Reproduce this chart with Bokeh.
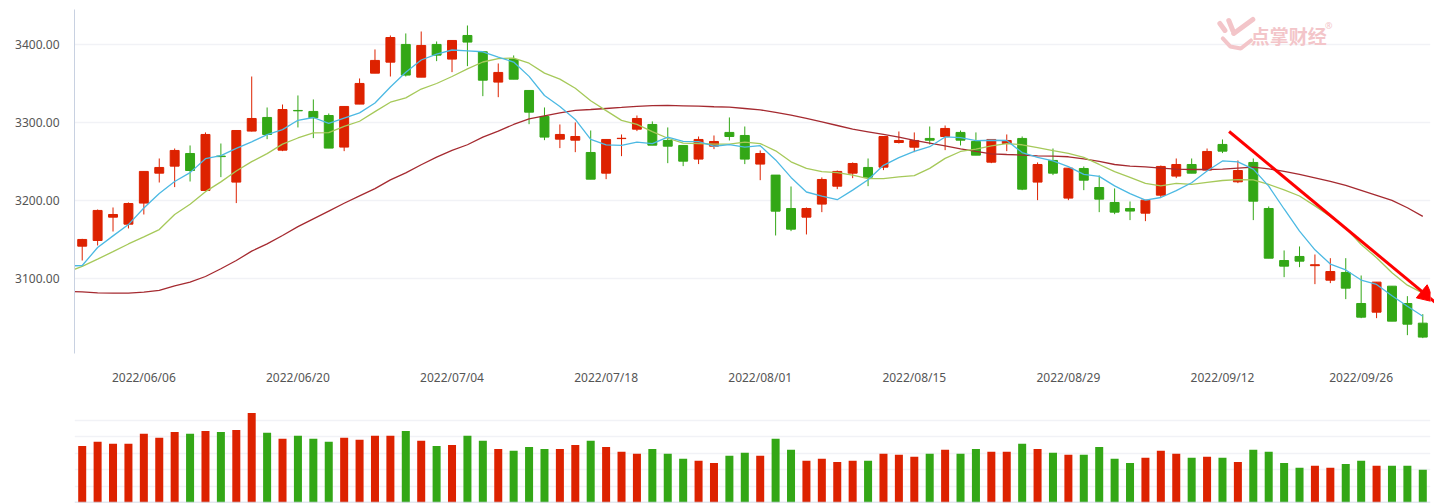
from bokeh.plotting import figure
from bokeh.models import Range1d, FixedTicker, NumeralTickFormatter, Arrow, NormalHead, Span, Label
from bokeh.layouts import column
from bokeh.embed import file_html
from bokeh.resources import INLINE
from bokeh.core.properties import value

# ---------------- data ----------------
opens = [3141.0, 3148.3, 3178.2, 3169.2, 3196.2, 3234.6, 3243.6, 3259.8, 3212.4, 3256.5,
         3223.1, 3288.5, 3306.0, 3264.1, 3315.0, 3313.7, 3308.5, 3268.0, 3323.1, 3362.8,
         3376.9, 3399.6, 3357.7, 3399.6, 3380.8, 3411.1, 3390.2, 3351.3, 3380.3, 3340.6,
         3307.3, 3278.2, 3276.9, 3261.1, 3234.6, 3278.9, 3291.0, 3297.0, 3276.5, 3270.1,
         3252.6, 3269.2, 3286.8, 3282.9, 3246.2, 3232.1, 3189.3, 3178.2, 3194.9, 3217.9,
         3234.6, 3241.9, 3242.3, 3273.9, 3267.9, 3279.1, 3281.6, 3286.8, 3275.2, 3248.7,
         3272.6, 3279.1, 3223.1, 3250.9, 3202.6, 3240.6, 3216.2, 3197.0, 3189.3, 3183.3,
         3206.4, 3230.8, 3245.7, 3238.5, 3271.4, 3223.5, 3248.3, 3189.3, 3122.6, 3127.8,
         3116.0, 3097.4, 3107.3, 3067.5, 3056.4, 3089.7, 3067.5, 3042.3]
highs = [3150.4, 3188.0, 3190.6, 3197.0, 3236.8, 3253.4, 3266.2, 3270.1, 3286.8, 3272.6,
         3289.3, 3358.5, 3318.8, 3322.6, 3334.2, 3329.1, 3311.1, 3320.1, 3356.0, 3393.2,
         3411.1, 3413.7, 3416.2, 3403.4, 3404.7, 3423.9, 3390.2, 3375.2, 3385.5, 3340.6,
         3318.8, 3297.0, 3299.6, 3289.3, 3277.8, 3284.2, 3308.5, 3300.9, 3293.2, 3270.1,
         3281.6, 3282.9, 3306.0, 3294.4, 3263.7, 3232.1, 3217.5, 3190.6, 3229.1, 3238.0,
         3248.3, 3253.4, 3281.6, 3288.0, 3286.8, 3294.4, 3295.7, 3289.3, 3286.8, 3277.8,
         3284.2, 3281.6, 3248.3, 3266.2, 3241.0, 3243.2, 3231.6, 3215.0, 3198.3, 3200.0,
         3244.4, 3253.4, 3253.4, 3266.2, 3277.8, 3250.9, 3253.4, 3191.9, 3135.5, 3140.6,
         3130.3, 3125.6, 3125.6, 3103.4, 3094.9, 3089.7, 3076.9, 3053.8]
lows = [3122.6, 3141.9, 3159.8, 3163.7, 3181.6, 3222.6, 3216.7, 3223.9, 3210.7, 3229.5,
        3196.2, 3288.0, 3278.2, 3262.8, 3293.2, 3279.5, 3266.7, 3262.8, 3323.1, 3362.8,
        3358.5, 3358.5, 3357.7, 3378.2, 3364.1, 3371.8, 3333.3, 3332.0, 3355.1, 3297.4,
        3276.9, 3266.7, 3261.5, 3226.9, 3226.9, 3256.4, 3288.5, 3270.5, 3247.4, 3243.6,
        3246.2, 3265.4, 3276.5, 3246.2, 3225.6, 3154.7, 3160.3, 3156.0, 3184.6, 3214.1,
        3228.2, 3217.9, 3238.5, 3272.6, 3261.5, 3271.4, 3264.1, 3270.1, 3257.7, 3247.4,
        3262.8, 3212.8, 3200.0, 3232.1, 3200.0, 3212.8, 3184.6, 3182.0, 3174.4, 3173.1,
        3203.8, 3228.2, 3234.6, 3238.5, 3260.3, 3221.8, 3174.4, 3125.6, 3101.3, 3114.1,
        3092.3, 3093.6, 3073.1, 3048.7, 3048.7, 3044.9, 3026.9, 3023.1]
closes = [3149.6, 3186.8, 3181.6, 3195.7, 3236.8, 3241.9, 3263.7, 3238.0, 3284.2, 3255.8,
          3289.3, 3304.7, 3284.2, 3316.2, 3314.5, 3305.6, 3266.7, 3320.1, 3349.6, 3379.1,
          3408.5, 3360.3, 3398.3, 3385.9, 3404.7, 3402.6, 3353.8, 3363.7, 3355.1, 3312.8,
          3280.8, 3284.2, 3281.6, 3226.9, 3277.8, 3279.3, 3304.7, 3270.5, 3269.2, 3250.0,
          3277.8, 3275.2, 3281.6, 3252.6, 3259.8, 3185.9, 3162.8, 3189.3, 3226.5, 3236.8,
          3247.0, 3229.5, 3281.6, 3276.5, 3276.5, 3276.9, 3291.9, 3276.9, 3257.7, 3277.8,
          3276.5, 3214.1, 3245.7, 3234.6, 3241.0, 3225.6, 3201.3, 3184.6, 3186.0, 3200.0,
          3243.2, 3245.7, 3234.6, 3262.4, 3262.8, 3238.0, 3198.7, 3125.6, 3115.4, 3121.8,
          3117.2, 3108.5, 3087.2, 3050.0, 3094.9, 3044.9, 3041.0, 3024.4]
volumes = [3430, 3680, 3560, 3560, 4160, 3920, 4280, 4160, 4340, 4280,
           4400, 5430, 4220, 3860, 4040, 3860, 3680, 3920, 3800, 4040,
           4040, 4340, 3740, 3430, 3490, 4040, 3740, 3250, 3130, 3370,
           3250, 3250, 3490, 3740, 3370, 3070, 2950, 3250, 2950, 2650,
           2530, 2400, 2830, 3010, 2830, 3860, 3190, 2530, 2650, 2460,
           2530, 2530, 2950, 2890, 2770, 2950, 3190, 2950, 3250, 3070,
           3070, 3560, 3250, 3010, 2890, 2890, 3370, 2650, 2400, 2710,
           3130, 2950, 2710, 2770, 2710, 2460, 3190, 3070, 2400, 2100,
           2220, 2100, 2340, 2530, 2220, 2220, 2220, 1980]
# moving averages, first value is the day before the visible window
ma5 = [3115.72, 3116.16, 3139.26, 3154.20, 3168.67, 3189.90, 3208.44, 3223.91, 3235.27, 3253.14,
       3256.98, 3266.41, 3274.73, 3284.02, 3290.41, 3302.38, 3305.95, 3298.30, 3305.26, 3311.85,
       3324.60, 3345.10, 3363.96, 3379.66, 3387.24, 3392.48, 3391.45, 3390.21, 3383.37, 3377.06,
       3358.69, 3334.18, 3319.96, 3303.43, 3277.83, 3270.73, 3270.32, 3274.41, 3272.46, 3280.84,
       3275.30, 3274.90, 3269.11, 3271.23, 3267.88, 3269.80, 3251.56, 3229.14, 3210.44, 3205.19,
       3200.59, 3212.82, 3226.09, 3244.62, 3254.59, 3262.42, 3268.51, 3281.01, 3280.19, 3276.42,
       3276.76, 3276.43, 3260.97, 3254.71, 3250.34, 3242.92, 3233.12, 3230.51, 3218.26, 3208.31,
       3200.15, 3203.39, 3212.22, 3222.34, 3237.46, 3250.24, 3249.05, 3239.78, 3217.94, 3188.65,
       3160.37, 3136.30, 3118.10, 3110.49, 3097.62, 3091.91, 3077.49, 3063.95, 3051.15]
ma10 = [3107.56, 3115.09, 3124.36, 3133.98, 3143.83, 3152.81, 3162.30, 3181.58, 3194.73, 3210.91,
        3223.44, 3237.42, 3249.32, 3259.64, 3271.77, 3279.68, 3286.18, 3286.52, 3294.64, 3301.13,
        3313.49, 3325.52, 3331.13, 3342.46, 3349.54, 3358.54, 3368.27, 3377.09, 3381.51, 3382.15,
        3375.59, 3362.81, 3355.09, 3343.40, 3327.44, 3314.71, 3302.25, 3297.19, 3287.95, 3279.34,
        3273.02, 3272.61, 3271.76, 3271.85, 3274.36, 3272.55, 3263.23, 3249.13, 3240.83, 3236.54,
        3235.19, 3232.19, 3227.62, 3227.53, 3229.89, 3231.50, 3240.67, 3253.55, 3262.40, 3265.51,
        3269.59, 3272.47, 3270.99, 3267.45, 3263.38, 3259.84, 3254.78, 3245.74, 3236.48, 3229.32,
        3221.54, 3218.26, 3221.37, 3220.30, 3222.88, 3225.19, 3226.22, 3226.00, 3220.14, 3213.06,
        3205.31, 3192.68, 3178.94, 3164.22, 3143.14, 3126.14, 3106.89, 3091.02, 3080.82]
ma30 = [3083.0, 3082.5, 3081.2, 3080.8, 3080.8, 3082.0, 3084.2, 3090.2, 3094.9, 3102.1,
        3112.0, 3122.6, 3134.6, 3144.0, 3154.7, 3166.0, 3176.0, 3186.0, 3196.0, 3205.5,
        3214.8, 3226.0, 3234.9, 3245.4, 3255.1, 3263.7, 3271.0, 3280.8, 3288.5, 3297.0,
        3304.2, 3308.1, 3312.0, 3315.2, 3316.2, 3317.5, 3318.8, 3320.3, 3321.2, 3321.4,
        3320.9, 3320.5, 3319.7, 3319.2, 3317.5, 3315.8, 3312.4, 3309.0, 3304.7, 3300.4,
        3295.7, 3291.0, 3287.6, 3284.2, 3280.8, 3276.5, 3273.1, 3269.7, 3265.8, 3262.4,
        3259.4, 3258.5, 3257.7, 3256.8, 3256.4, 3255.6, 3253.0, 3249.6, 3245.7, 3243.6,
        3242.7, 3241.0, 3239.7, 3239.3, 3239.3, 3239.7, 3241.0, 3242.3, 3240.2, 3236.8,
        3232.9, 3228.6, 3224.1, 3218.8, 3212.4, 3206.0, 3199.6, 3190.2, 3179.2]
tick_positions = [4, 14, 24, 34, 44, 54, 64, 74, 83]
tick_labels = ["2022/06/06", "2022/06/20", "2022/07/04", "2022/07/18", "2022/08/01",
               "2022/08/15", "2022/08/29", "2022/09/12", "2022/09/26"]
price_ticks = [3100, 3200, 3300, 3400]
volume_ticks = [1000, 2000, 3000, 4000, 5000, 6000]

# ---------------- derived ----------------
n = len(closes)
idx = list(range(n))
ma_x = list(range(-1, n))
RED = "#dd2200"
GREEN = "#33a716"
colors = [RED if c >= o else GREEN for o, c in zip(opens, closes)]
body_top = [max(o, c) for o, c in zip(opens, closes)]
body_bot = [min(o, c) for o, c in zip(opens, closes)]

FONT = "Noto Sans"
GRID = "#f1f2f6"
AXIS = "#c8d1e1"

xr = Range1d(-0.5, n - 0.5)

# ---------------- price panel ----------------
p = figure(frame_width=1356, frame_height=344, min_border_left=74, min_border_right=4,
           min_border_top=9, min_border_bottom=39, x_range=xr, y_range=Range1d(3003.4, 3444.4),
           output_backend="svg", toolbar_location=None)
p.outline_line_color = None
p.xgrid.visible = False
p.ygrid.ticker = FixedTicker(ticks=price_ticks)
p.ygrid.grid_line_color = GRID
p.ygrid.grid_line_width = 1.5

p.yaxis.ticker = FixedTicker(ticks=price_ticks)
p.yaxis.formatter = NumeralTickFormatter(format="0.00")
p.yaxis.axis_line_color = AXIS
p.yaxis.major_tick_line_color = None
p.yaxis.minor_tick_line_color = None
p.yaxis.major_tick_out = 0
p.yaxis.major_tick_in = 0
p.yaxis.minor_tick_out = 0
p.yaxis.major_label_standoff = 15
p.yaxis.major_label_text_font = FONT
p.yaxis.major_label_text_font_size = "12px"
p.yaxis.major_label_text_color = "#555555"

p.xaxis.ticker = FixedTicker(ticks=tick_positions)
p.xaxis.major_label_overrides = {t: l for t, l in zip(tick_positions, tick_labels)}
p.xaxis.axis_line_color = None
p.xaxis.major_tick_line_color = None
p.xaxis.minor_tick_line_color = None
p.xaxis.major_tick_out = 0
p.xaxis.major_tick_in = 0
p.xaxis.minor_tick_out = 0
p.xaxis.major_label_standoff = 15
p.xaxis.major_label_text_font = FONT
p.xaxis.major_label_text_font_size = "12px"
p.xaxis.major_label_text_color = "#555555"

# watermark
wm_color = "#f3c5c9"
p.add_layout(Label(x=78.3, y=3410.5, text="点掌财经", text_font="Noto Sans CJK SC",
                   text_font_size="19px", text_font_style="bold", text_color=wm_color,
                   text_align="center", text_baseline="middle"))
p.add_layout(Label(x=80.9, y=3424.0, text="®", text_font=FONT, text_font_size="9px",
                   text_color=wm_color, text_align="center", text_baseline="middle"))
p.multi_line(xs=[[73.83, 74.16], [74.41, 74.67], [74.73, 75.97]],
             ys=[[3426.5, 3417.5], [3430.3, 3417.5], [3413.7, 3431.6]],
             line_color=wm_color, line_width=5, line_cap="round")
p.line(x=[74.02, 74.5, 75.19, 75.85], y=[3407.3, 3397.0, 3394.4, 3404.7],
       line_color=wm_color, line_width=4, line_cap="round")

# candles
p.segment(x0=idx, y0=highs, x1=idx, y1=lows, line_color=colors, line_width=1)
p.vbar(x=idx, width=0.58, top=body_top, bottom=body_bot, fill_color=colors,
       line_color=colors, line_width=1)

# moving averages
p.line(ma_x, ma30, line_color="#a52a30", line_width=1.3)
p.line(ma_x, ma10, line_color="#a6c95a", line_width=1.3)
p.line(ma_x, ma5, line_color="#4cb9e3", line_width=1.3)

# trend arrow
p.add_layout(Arrow(end=NormalHead(size=17, fill_color="#ff0000", line_color="#ff0000"),
                   x_start=74.43, y_start=3288.0, x_end=87.78, y_end=3069.2,
                   line_color="#ff0000", line_width=3))

# ---------------- volume panel ----------------
v = figure(frame_width=1356, frame_height=99, min_border_left=74, min_border_right=4,
           min_border_top=11, min_border_bottom=1, x_range=xr, y_range=Range1d(0, 6000),
           output_backend="svg", toolbar_location=None)
v.outline_line_color = None
v.xaxis.visible = False
v.yaxis.visible = False
v.xgrid.visible = False
v.ygrid.ticker = FixedTicker(ticks=volume_ticks)
v.ygrid.grid_line_color = GRID
v.ygrid.grid_line_width = 1.5
v.vbar(x=idx, width=0.52, top=volumes, bottom=0, fill_color=colors, line_color=None)
v.add_layout(Span(location=0, dimension="width", line_color=AXIS, line_width=1.5))

layout = column(p, v, spacing=0)
open("out.html", "w").write(file_html(layout, INLINE))
